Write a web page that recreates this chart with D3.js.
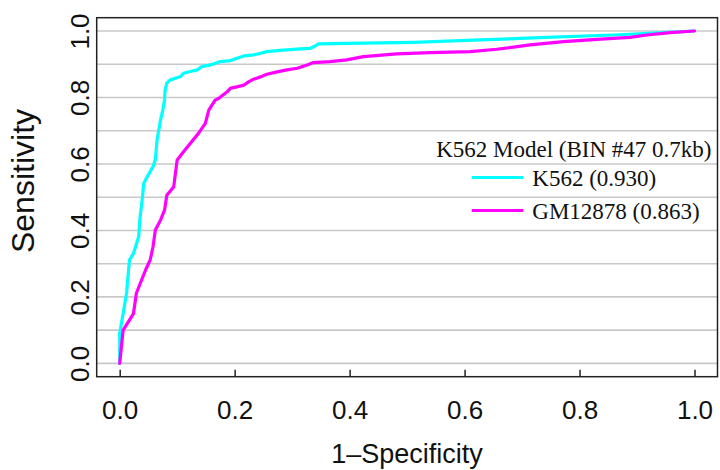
<!DOCTYPE html>
<html>
<head>
<meta charset="utf-8">
<script src="https://cdn.jsdelivr.net/npm/d3@7"></script>
<style>
  html, body { margin: 0; padding: 0; background: #fff; }
  svg { display: block; }
</style>
</head>
<body>
<svg id="chart" width="720" height="470"></svg>
<script>
// ---- data ----
const k562Fpr = [0, 0, 0.007, 0.012, 0.017, 0.024, 0.033, 0.035, 0.039, 0.042, 0.048, 0.058, 0.062, 0.065, 0.071, 0.075, 0.078, 0.079, 0.082, 0.088, 0.097, 0.106, 0.111, 0.123, 0.135, 0.143, 0.158, 0.175, 0.193, 0.204, 0.216, 0.233, 0.245, 0.256, 0.274, 0.291, 0.314, 0.332, 0.340, 0.346, 0.395, 0.511, 0.627, 0.743, 0.859, 0.946, 1.0];
const k562Tpr = [0, 0.091, 0.160, 0.212, 0.311, 0.331, 0.381, 0.431, 0.491, 0.542, 0.562, 0.592, 0.612, 0.672, 0.732, 0.762, 0.792, 0.822, 0.843, 0.853, 0.858, 0.863, 0.873, 0.878, 0.883, 0.893, 0.898, 0.908, 0.911, 0.918, 0.925, 0.928, 0.933, 0.938, 0.941, 0.943, 0.946, 0.948, 0.955, 0.961, 0.963, 0.966, 0.973, 0.981, 0.988, 0.995, 1.0];

const gmFpr = [0, 0.006, 0.024, 0.029, 0.045, 0.053, 0.058, 0.062, 0.071, 0.078, 0.082, 0.094, 0.097, 0.100, 0.109, 0.123, 0.137, 0.149, 0.155, 0.166, 0.172, 0.187, 0.193, 0.204, 0.216, 0.224, 0.233, 0.245, 0.256, 0.274, 0.291, 0.309, 0.326, 0.337, 0.366, 0.395, 0.424, 0.482, 0.540, 0.610, 0.656, 0.714, 0.772, 0.830, 0.888, 0.917, 0.958, 1.0];
const gmTpr = [0, 0.100, 0.150, 0.211, 0.281, 0.311, 0.351, 0.401, 0.431, 0.461, 0.506, 0.531, 0.572, 0.612, 0.632, 0.662, 0.692, 0.722, 0.762, 0.792, 0.797, 0.817, 0.828, 0.832, 0.837, 0.847, 0.855, 0.862, 0.870, 0.877, 0.883, 0.888, 0.898, 0.905, 0.908, 0.913, 0.923, 0.931, 0.935, 0.938, 0.945, 0.958, 0.968, 0.975, 0.981, 0.988, 0.995, 1.0];

const xTicks = [0, 0.2, 0.4, 0.6, 0.8, 1.0];
const yTicks = [0, 0.2, 0.4, 0.6, 0.8, 1.0];
const gridValues = [0, 0.1, 0.2, 0.3, 0.4, 0.5, 0.6, 0.7, 0.8, 0.9, 1.0];
const seriesNames = ["K562 (0.930)", "GM12878 (0.863)"];
const seriesColors = ["#00ffff", "#ff00ff"];
const legendTitle = "K562 Model (BIN #47 0.7kb)";
const xTitle = "1\u2013Specificity";
const yTitle = "Sensitivity";

// ---- drawing ----
const svg = d3.select("#chart");
const pLeft = 96.7, pRight = 717.5, pTop = 17.7, pBottom = 376.7;

const x = d3.scaleLinear().domain([-0.04, 1.04]).range([pLeft, pRight]);
const y = d3.scaleLinear().domain([-0.04, 1.04]).range([pBottom, pTop]);

// grid
svg.append("g")
  .selectAll("line")
  .data(gridValues)
  .join("line")
  .attr("x1", pLeft).attr("x2", pRight)
  .attr("y1", d => y(d)).attr("y2", d => y(d))
  .attr("stroke", "#c8c8c8")
  .attr("stroke-width", 1.6);

// curves
const series = [
  k562Fpr.map((v, i) => [v, k562Tpr[i]]),
  gmFpr.map((v, i) => [v, gmTpr[i]])
];
const line = d3.line().x(d => x(d[0])).y(d => y(d[1]));
series.forEach((s, i) => {
  svg.append("path").datum(s)
    .attr("d", line).attr("fill", "none")
    .attr("stroke", seriesColors[i]).attr("stroke-width", 3.2)
    .attr("stroke-linejoin", "round").attr("stroke-linecap", "round");
});

// box
svg.append("rect")
  .attr("x", pLeft).attr("y", pTop)
  .attr("width", pRight - pLeft).attr("height", pBottom - pTop)
  .attr("fill", "none").attr("stroke", "#222").attr("stroke-width", 1.5);

// x axis (ticks pointing inward)
const xAxis = d3.axisBottom(x).tickValues(xTicks).tickFormat(d3.format(".1f"))
  .tickSizeInner(-7).tickSizeOuter(0).tickPadding(24);
const gx = svg.append("g").attr("transform", `translate(0,${pBottom})`).call(xAxis);
gx.select(".domain").remove();
gx.selectAll(".tick line").attr("stroke", "#222").attr("stroke-width", 1.5);
gx.selectAll(".tick text")
  .attr("font-family", "Liberation Sans, Arial, Helvetica, sans-serif")
  .attr("font-size", 26).attr("fill", "#111");

// y axis labels (rotated)
const yAxis = d3.axisLeft(y).tickValues(yTicks).tickFormat(d3.format(".1f"))
  .tickSize(0).tickPadding(0);
const gy = svg.append("g").attr("transform", `translate(${pLeft},0)`).call(yAxis);
gy.select(".domain").remove();
gy.selectAll(".tick text")
  .attr("font-family", "Liberation Sans, Arial, Helvetica, sans-serif")
  .attr("font-size", 26).attr("fill", "#111")
  .attr("text-anchor", "middle")
  .attr("x", 0).attr("dy", 0)
  .attr("transform", "translate(-8,0) rotate(-90)");

// axis titles
svg.append("text")
  .attr("x", x(0.5)).attr("y", 463)
  .attr("text-anchor", "middle")
  .attr("font-family", "Liberation Sans, Arial, Helvetica, sans-serif")
  .attr("font-size", 27).attr("fill", "#111")
  .text(xTitle);
svg.append("text")
  .attr("transform", `translate(34,181) rotate(-90)`)
  .attr("text-anchor", "middle")
  .attr("font-family", "Liberation Sans, Arial, Helvetica, sans-serif")
  .attr("font-size", 32).attr("fill", "#111")
  .text(yTitle);

// legend
const lg = svg.append("g").attr("font-family", "Liberation Serif, Times New Roman, serif").attr("fill", "#111");
lg.append("text").attr("x", 711.5).attr("y", 157).attr("text-anchor", "end")
  .attr("font-size", 23).text(legendTitle);
seriesNames.forEach((name, i) => {
  const ly = 177.5 + i * 33;
  lg.append("line").attr("x1", 471.7).attr("x2", 523.3).attr("y1", ly).attr("y2", ly)
    .attr("stroke", seriesColors[i]).attr("stroke-width", 3.2);
  lg.append("text").attr("x", 532.3).attr("y", ly + 8).attr("font-size", 23).text(name);
});
</script>
</body>
</html>
